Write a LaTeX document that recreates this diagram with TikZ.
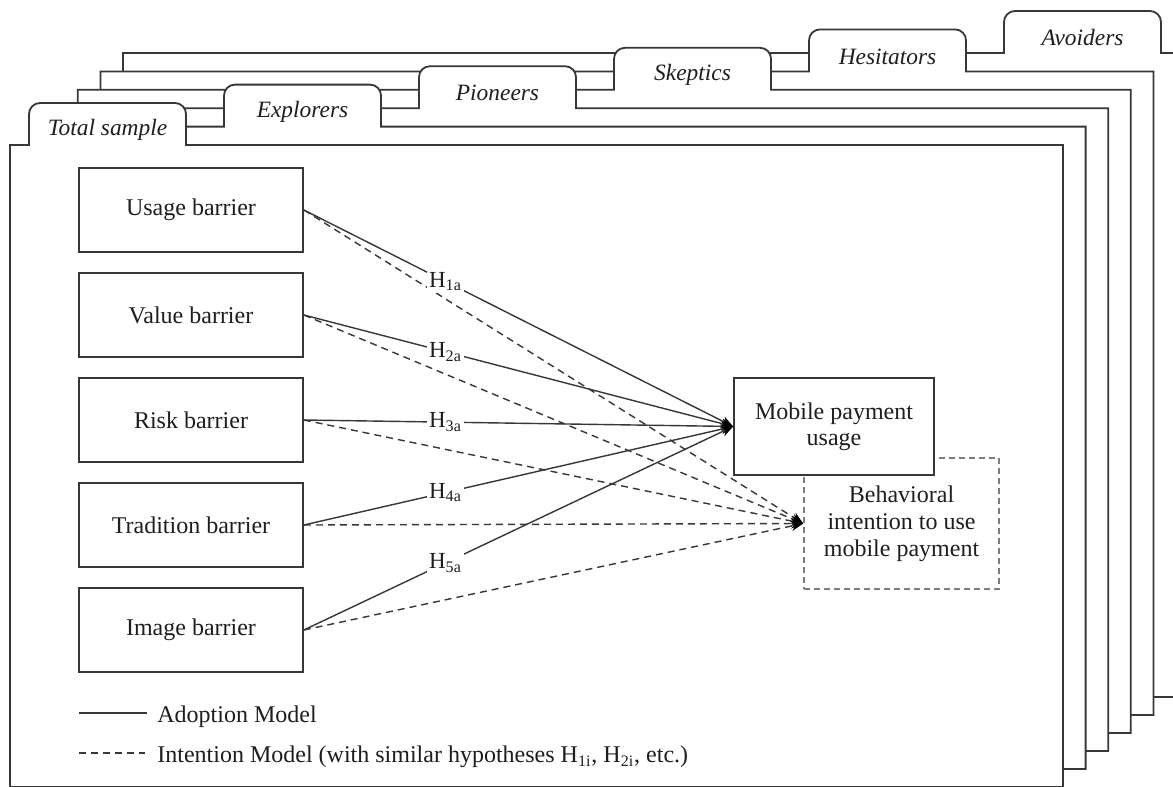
\documentclass[tikz,border=0pt]{standalone}
\usepackage{fontspec}
\setmainfont{Liberation Serif}
\usetikzlibrary{arrows.meta}
\definecolor{mpLine}{RGB}{55,55,55}
\definecolor{mpDash}{RGB}{125,125,125}
\definecolor{mpText}{RGB}{30,30,30}

\begin{document}
\begin{tikzpicture}[x=0.5pt,y=-0.5pt,
  sheet/.style={draw=mpLine, line width=0.9pt, fill=white},
  tabtext/.style={font=\fontsize{11.7}{14}\selectfont\itshape, text=mpText, inner sep=0pt},
  barrier/.style={draw=mpLine, line width=0.85pt, fill=white, minimum width=112pt, minimum height=42pt, font=\fontsize{12}{14}\selectfont, text=mpText},
  outcome/.style={draw=mpLine, line width=0.85pt, fill=white, align=center, minimum width=100pt, minimum height=48.5pt, font=\fontsize{12}{13}\selectfont, text=mpText},
  intent/.style={draw=mpDash, line width=0.8pt, dash pattern=on 3pt off 2pt, align=center, minimum width=97.5pt, minimum height=65.5pt, font=\fontsize{12}{13.5}\selectfont, text=mpText},
  adopt/.style={draw=mpLine, line width=0.7pt},
  intend/.style={draw=mpLine, line width=0.7pt, dash pattern=on 3.5pt off 2.5pt},
  arrowed/.style={-{Stealth[length=6pt,width=5pt,black]}},
  hyp/.style={fill=white, inner sep=1pt, font=\fontsize{11.5}{13}\selectfont, text=mpText},
  legtext/.style={anchor=west, inner sep=0pt, font=\fontsize{12}{14}\selectfont, text=mpText}]
  \useasboundingbox (0,0) rectangle (1173,787);

  % Stacked sample sheets, back to front
  \foreach \k/\grp in {5/Avoiders,4/Hesitators,3/Skeptics,2/Pioneers,1/Explorers,0/Total sample}{
    \pgfmathsetmacro\shL{10+22.6*\k}
    \pgfmathsetmacro\shR{1063+22.6*\k}
    \pgfmathsetmacro\shT{145-18.4*\k}
    \pgfmathsetmacro\shB{787-18*\k}
    \pgfmathsetmacro\tabL{29+195*\k}
    \pgfmathsetmacro\tabR{186+195*\k}
    \pgfmathsetmacro\tabT{\shT-42}
    \draw[sheet] (\shL,\shB) -- (\shL,\shT) -- (\tabL,\shT) -- (\tabL,\tabT+11)
      arc[start angle=180, end angle=90, radius=5.5pt] -- (\tabR-11,\tabT)
      arc[start angle=90, end angle=0, radius=5.5pt] -- (\tabR,\shT)
      -- (\shR,\shT) -- (\shR,\shB) -- cycle;
    \node[tabtext] (tab\k) at ({(\tabL+\tabR)/2},\tabT+27) {\grp};
  }

  % Barriers
  \node[barrier] (usage) at (191,210) {Usage barrier};
  \node[barrier] (value) at (191,315) {Value barrier};
  \node[barrier] (risk) at (191,420) {Risk barrier};
  \node[barrier] (tradition) at (191,525) {Tradition barrier};
  \node[barrier] (image) at (191,630) {Image barrier};

  % Outcomes
  \node[intent] (intention) at (901.5,523.5) {Behavioral\\intention to use\\mobile payment};
  \node[outcome] (mpusage) at (834,426.5) {Mobile payment\\usage};

  % Intention model
  \foreach \b in {usage,value,risk,tradition,image}
    \draw[intend,arrowed] (\b.east) -- (intention.west);

  % Adoption model
  \draw[adopt,arrowed] (usage.east) -- node[hyp,pos=0.33] (h1) {H\textsubscript{1a}} (mpusage.west);
  \draw[adopt,arrowed] (value.east) -- node[hyp,pos=0.33] (h2) {H\textsubscript{2a}} (mpusage.west);
  \draw[adopt,arrowed] (risk.east) -- node[hyp,pos=0.33] (h3) {H\textsubscript{3a}} (mpusage.west);
  \draw[adopt,arrowed] (tradition.east) -- node[hyp,pos=0.33] (h4) {H\textsubscript{4a}} (mpusage.west);
  \draw[adopt,arrowed] (image.east) -- node[hyp,pos=0.33] (h5) {H\textsubscript{5a}} (mpusage.west);

  % Legend
  \coordinate (adoptL) at (79,713);
  \coordinate (adoptR) at (147,713);
  \draw[adopt] (adoptL) -- (adoptR);
  \node[legtext] (adoptkey) at (157,717) {Adoption Model};
  \coordinate (intendL) at (79,753);
  \coordinate (intendR) at (145,753);
  \draw[intend] (intendL) -- (intendR);
  \node[legtext] (intendkey) at (157,757) {Intention Model (with similar hypotheses H\textsubscript{1i}, H\textsubscript{2i}, etc.)};
\end{tikzpicture}
\end{document}
